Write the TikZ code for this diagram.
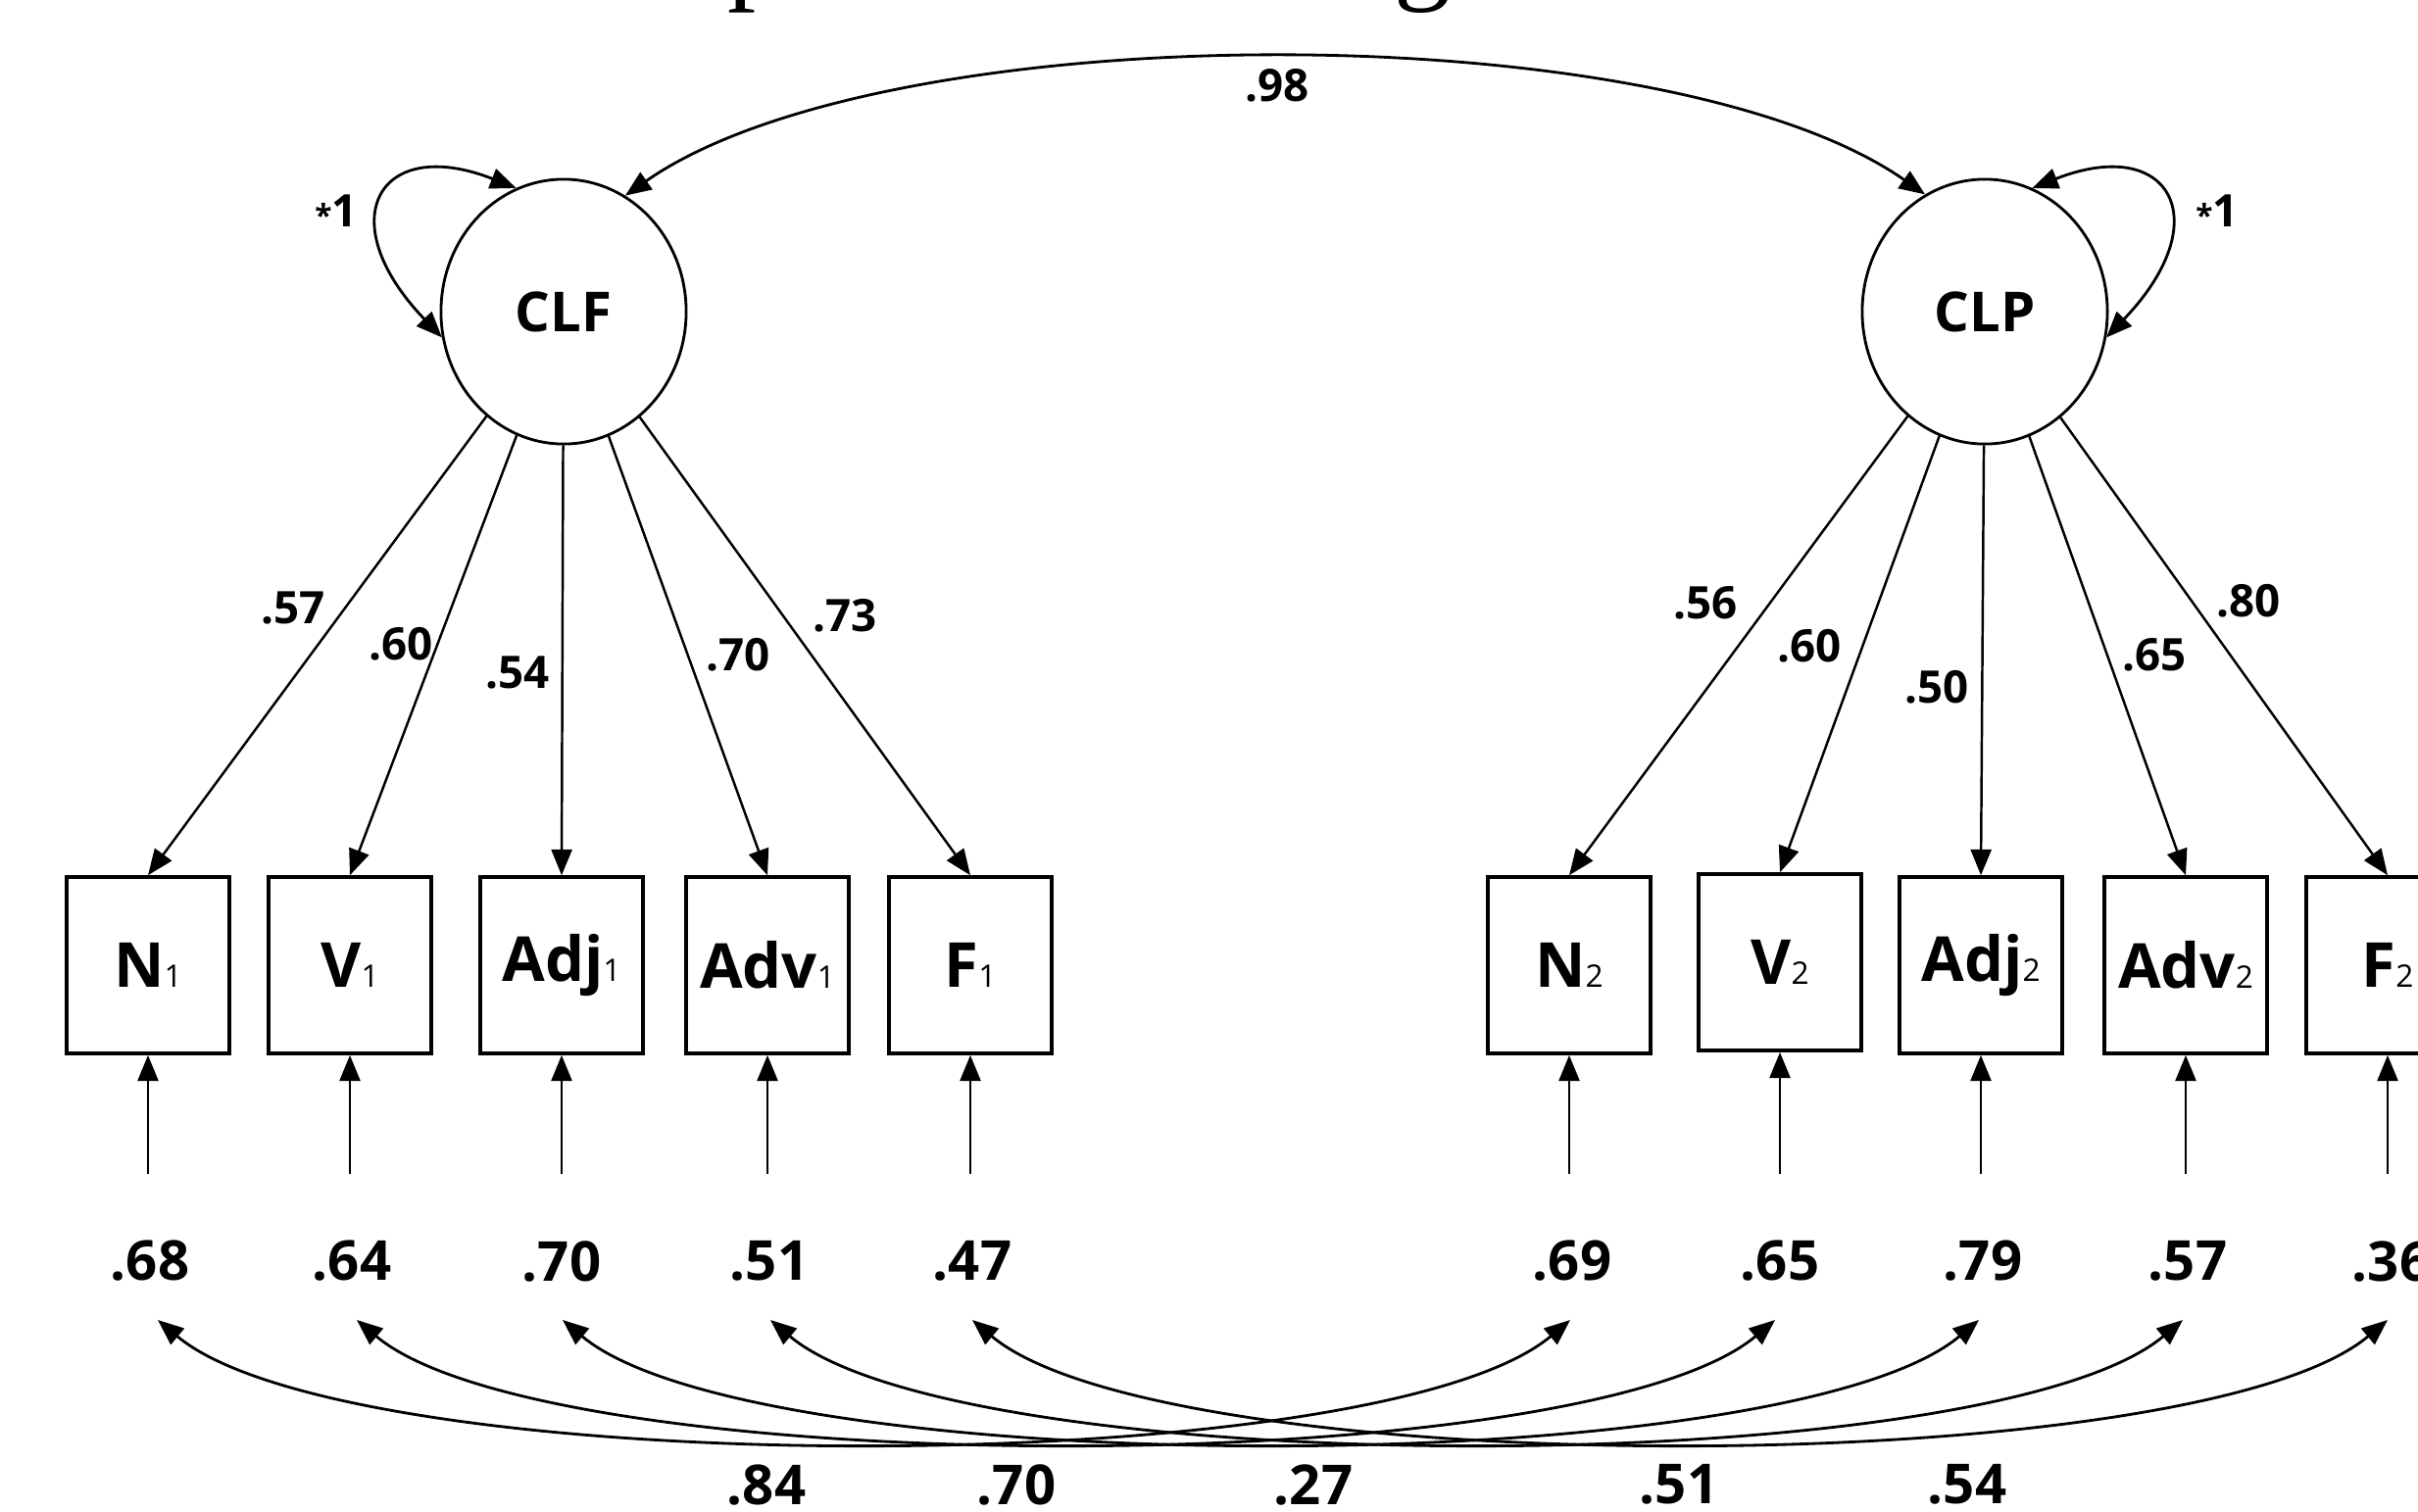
\documentclass[tikz,border=0pt]{standalone}
\usepackage{fontspec}
\setmainfont{Open Sans}
\newfontfamily\serifttl{Liberation Serif}
\usetikzlibrary{arrows.meta,shapes.geometric}
\newcommand\subn[1]{{\fontsize{9}{9}\mdseries\selectfont #1}}
\begin{document}
\begin{tikzpicture}[x=0.01cm,y=-0.01cm,
  ind/.style={draw,line width=1pt,rectangle,minimum width=1.66cm,minimum height=1.80cm,inner sep=0pt,font=\fontsize{18}{18}\bfseries\selectfont},
  lat/.style={draw,line width=0.8pt,ellipse,minimum width=2.5cm,minimum height=2.7cm,inner sep=0pt,font=\fontsize{16}{16}\bfseries\selectfont},
  tip/.tip={Triangle[length=7.5pt,width=6pt]},
  load/.style={line width=0.7pt,-tip},
  cov/.style={line width=0.8pt,tip-tip},
  enum/.style={inner sep=0pt,font=\fontsize{16}{16}\bfseries\selectfont},
  lnum/.style={inner sep=0pt,font=\fontsize{13}{13}\bfseries\selectfont},
  ttl/.style={inner sep=0pt,anchor=base west,font=\serifttl\fontsize{33}{33}\selectfont}
]
\useasboundingbox (0,0) rectangle (2467,1542);
\clip (0,0) rectangle (2467,1542);

% title fragments (cut off at top)
\node[ttl] (ttlp) at (742,-12) {p};
\node[ttl] (ttlg) at (1422,-12) {g};

% latent variables
\node[lat] (CLF) at (575,318) {CLF};
\node[lat] (CLP) at (2025,318) {CLP};

% indicators
\node[ind] (N1) at (151,985) {N\subn{1}};
\node[ind] (V1) at (357,985) {V\subn{1}};
\node[ind] (Adj1) at (573,985) {Adj\subn{1}};
\node[ind] (Adv1) at (783,985) {Adv\subn{1}};
\node[ind] (F1) at (990,985) {F\subn{1}};
\node[ind] (N2) at (1601,985) {N\subn{2}};
\node[ind] (V2) at (1816,982) {V\subn{2}};
\node[ind] (Adj2) at (2021,985) {Adj\subn{2}};
\node[ind] (Adv2) at (2230,985) {Adv\subn{2}};
\node[ind] (F2) at (2436,985) {F\subn{2}};

% variances of latents
\draw[cov] (CLF.111) .. controls +(-140,-55) and +(-115,-120) .. (CLF.192);
\draw[cov] (CLP.69) .. controls +(140,-55) and +(115,-120) .. (CLP.-12);
\node[lnum] (vCLF) at (343,215) {{\fontsize{9}{9}\selectfont *}1};
\node[lnum] (vCLP) at (2262,215) {{\fontsize{9}{9}\selectfont *}1};

% latent correlation
\draw[cov] (CLF.62) .. controls +(266,-186) and +(-266,-186) .. (CLP.117);
\node[lnum] (r98) at (1303,87) {.98};

% loadings
\draw[load] (CLF) -- (N1.north);
\draw[load] (CLF) -- (V1.north);
\draw[load] (CLF) -- (Adj1.north);
\draw[load] (CLF) -- (Adv1.north);
\draw[load] (CLF) -- (F1.north);
\draw[load] (CLP) -- (N2.north);
\draw[load] (CLP) -- (V2.north);
\draw[load] (CLP) -- (Adj2.north);
\draw[load] (CLP) -- (Adv2.north);
\draw[load] (CLP) -- (F2.north);
\node[lnum] (lN1) at (299,620) {.57};
\node[lnum] (lV1) at (409,657) {.60};
\node[lnum] (lAdj1) at (528,686) {.54};
\node[lnum] (lAdv1) at (753,668) {.70};
\node[lnum] (lF1) at (862,628) {.73};
\node[lnum] (lN2) at (1740,615) {.56};
\node[lnum] (lV2) at (1846,659) {.60};
\node[lnum] (lAdj2) at (1976,701) {.50};
\node[lnum] (lAdv2) at (2198,668) {.65};
\node[lnum] (lF2) at (2294,613) {.80};

% error terms
\foreach \n/\x in {N1/151,V1/357,Adj1/573,Adv1/783,F1/990,N2/1601,V2/1816,Adj2/2021,Adv2/2230,F2/2436}{
  \coordinate (e\n) at (\x,1198);
  \draw[load] (e\n) -- (\n.south);
}
\node[enum] (rN1) at (153,1287) {.68};
\node[enum] (rV1) at (359,1287) {.64};
\node[enum] (rAdj1) at (573,1287) {.70};
\node[enum] (rAdv1) at (785,1287) {.51};
\node[enum] (rF1) at (992,1287) {.47};
\node[enum] (rN2) at (1604,1287) {.69};
\node[enum] (rV2) at (1816,1287) {.65};
\node[enum] (rAdj2) at (2023,1287) {.79};
\node[enum] (rAdv2) at (2232,1287) {.57};
\node[enum] (rF2) at (2440,1287) {.36};

% error covariances
\foreach \a/\b/\xa/\xb in {N1/N2/161/1602,V1/V2/364/1811,Adj1/Adj2/574/2019,Adv1/Adv2/786/2227,F1/F2/992/2436}{
  \coordinate (c\a) at (\xa,1347);
  \coordinate (c\b) at (\xb,1347);
  \draw[cov] (c\a) .. controls +(198,166) and +(-198,166) .. (c\b);
}
\node[enum] (cv1) at (782,1515) {.84};
\node[enum] (cv2) at (1037,1515) {.70};
\node[enum] (cv3) at (1340,1515) {.27};
\node[enum] (cv4) at (1713,1515) {.51};
\node[enum] (cv5) at (2007,1515) {.54};
\end{tikzpicture}
\end{document}
